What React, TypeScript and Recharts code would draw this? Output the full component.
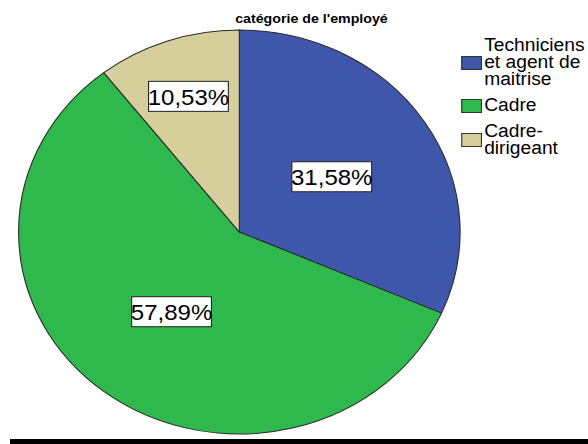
import React from "react";
import { PieChart, Pie, Cell, Legend } from "recharts";

// catégories et effectifs (19 employés)
const categories = ["Techniciens et agent de maitrise", "Cadre", "Cadre-dirigeant"];
const counts = [6, 11, 2];
const colors = ["#3f57ab", "#2fb84c", "#d6cf9c"];
const title = "catégorie de l'employé";

const data = categories.map((name, i) => ({ name, value: counts[i] }));

const FONT = "'Liberation Sans', Arial, sans-serif";
const RADIAN = Math.PI / 180;

// the original is stretched horizontally
const STRETCH = 1.0929;

const renderLabel = (props: any) => {
  const { cx, cy, midAngle, outerRadius, percent } = props;
  const r = outerRadius * (percent < 0.15 ? 0.71 : 0.5);
  const x = cx + r * Math.cos(-midAngle * RADIAN);
  const y = cy + r * Math.sin(-midAngle * RADIAN);
  const txt = (percent * 100).toFixed(2).replace(".", ",") + "%";
  return (
    <g>
      <rect x={x - 36.5} y={y - 15} width={73} height={30} fill="#fff" stroke="#222" strokeWidth={1} />
      <text x={x} y={y + 1} textAnchor="middle" dominantBaseline="central" fontSize={22} fontFamily={FONT} fill="#000">
        {txt}
      </text>
    </g>
  );
};

// legend keeps the data order (recharts sorts its payload by name)
const renderLegend = () => (
  <div style={{ display: "flex", flexDirection: "column", gap: 9, fontFamily: FONT }}>
    {categories.map((name, i) => (
      <div key={name} style={{ display: "flex", alignItems: "center" }}>
        <div
          style={{
            width: 19,
            height: 14,
            background: colors[i],
            border: "1px solid #333",
            boxSizing: "border-box",
            flexShrink: 0,
          }}
        />
        <div style={{ marginLeft: 2, width: 100, fontSize: 17.6, lineHeight: "17px", color: "#000" }}>{name}</div>
      </div>
    ))}
  </div>
);

export default function App() {
  return (
    <div style={{ position: "absolute", left: 0, top: 0, width: 588, height: 444, overflow: "hidden", background: "#fff" }}>
      <div
        style={{
          position: "absolute",
          left: 0,
          top: 0,
          width: 538,
          height: 444,
          transform: `scaleX(${STRETCH})`,
          transformOrigin: "0 0",
        }}
      >
        <PieChart width={538} height={444} margin={{ top: 0, right: 0, bottom: 0, left: 0 }}>
          <Pie
            data={data}
            dataKey="value"
            nameKey="name"
            cx={219}
            cy={232}
            outerRadius={202}
            startAngle={90}
            endAngle={-270}
            stroke="#2a2a2a"
            strokeWidth={1}
            label={renderLabel}
            labelLine={false}
            isAnimationActive={false}
          >
            {data.map((d, i) => (
              <Cell key={d.name} fill={colors[i]} />
            ))}
          </Pie>
          <Legend
            layout="vertical"
            align="right"
            verticalAlign="top"
            content={renderLegend}
            wrapperStyle={{ left: 422, top: 37, width: 121 }}
          />
        </PieChart>
        <div
          style={{
            position: "absolute",
            left: 185,
            top: 12,
            width: 200,
            textAlign: "center",
            fontFamily: FONT,
            fontWeight: "bold",
            fontSize: 13,
            lineHeight: "13px",
            color: "#000",
          }}
        >
          {title}
        </div>
      </div>
      <div style={{ position: "absolute", left: 10, top: 439, width: 578, height: 5, background: "#000" }} />
    </div>
  );
}
